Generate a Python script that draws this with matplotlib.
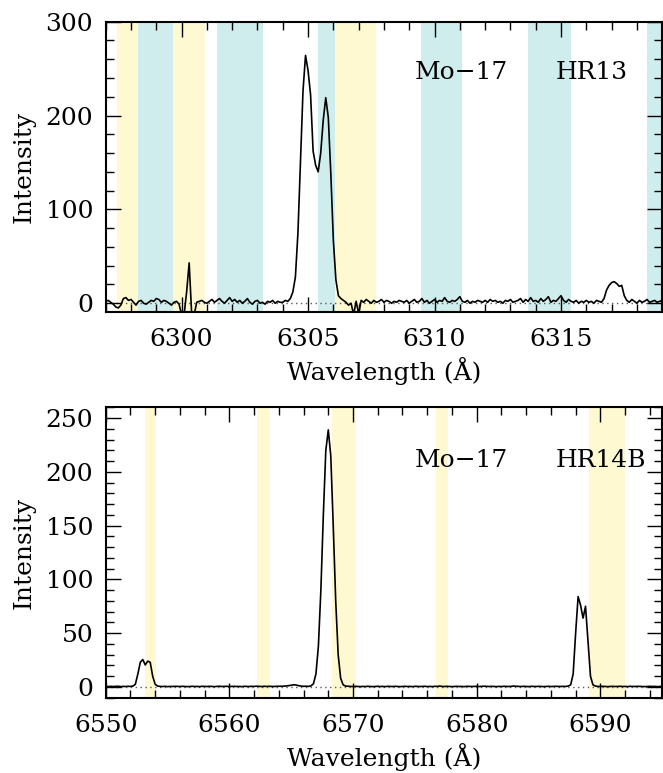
import numpy as np
import matplotlib
matplotlib.use('Agg')
import matplotlib.pyplot as plt
from matplotlib.ticker import MultipleLocator

plt.rcParams['font.family'] = ['DejaVu Serif']

# ---- top panel data (HR13), 0.1 A sampling from 6297.0
top_start, top_step = 6297.0, 0.1
top_flux = [
    2, 3, 1, -1, -4, -5, -2, 5, 6, 3,
    4, 1, -2, 2, 3, 0, -1, 1, 3, 2,
    5, 4, 1, 3, 2, 0, -2, 1, 2, -1,
    -12, -12, 12, 43, -12, -12, 1, 2, 3, 1,
    0, 2, 4, 1, 3, 5, 2, 0, 3, 6,
    2, 4, 1, 3, 0, 2, 5, 1, -1, 2,
    3, 0, 1, -1, 2, 1, 3, 0, 2, 1,
    1, 3, 2, 5, 12, 28, 75, 150, 226, 264,
    248, 222, 162, 147, 140, 160, 195, 219, 198, 138,
    67, 25, 8, 5, 3, 1, -2, 0, -12, 2,
    -11, 3, 1, 4, 2, 0, 3, 1, 2, 4,
    1, 3, 2, 0, 2, 1, 3, 2, 1, 3,
    0, 2, 4, 1, 2, 5, 1, 3, 0, 2,
    4, 1, 3, 2, 6, 2, 1, 3, 2, 4,
    7, 2, 1, 3, 0, 2, 1, 3, 2, 1,
    3, 1, 4, 2, 3, 1, 2, 0, 3, 2,
    4, 1, 2, 3, 5, 1, 4, 2, 6, 2,
    3, 1, 5, 2, 4, 7, 1, 3, 2, 5,
    8, 3, 1, 4, 2, 1, 3, 0, 2, 1,
    3, 1, 2, 0, 3, 2, 1, 5, 14, 19,
    22, 23, 21, 18, 19, 8, 3, 1, 4, 2,
    0, 3, 1, 2, 4, 1, 2, 3, 1, 2,
    3,
]
top_yellow = [(6297.43, 6298.29), (6299.67, 6300.94), (6306.07, 6307.67)]
top_cyan = [(6298.29, 6299.67), (6301.41, 6303.23), (6305.40, 6306.07),
            (6309.45, 6311.07), (6313.69, 6315.41), (6318.40, 6319.5)]

# ---- bottom panel data (HR14B), 0.2 A sampling from 6550.0
bot_start, bot_step = 6550.0, 0.2
bot_flux = [
    0.5, 0.3, 0.6, 0.4, 0.5, 0.7, 0.3, 0.5, 0.4, 0.6,
    0.5, 0.8, 2.5, 12, 23, 25.5, 20.5, 24, 23, 10,
    2.5, 0.8, 0.5, 0.4, 0.6, 0.3, 0.5, 0.4, 0.6, 0.5,
    0.4, 0.6, 0.5, 0.3, 0.5, 0.6, 0.4, 0.5, 0.3, 0.6,
    0.5, 0.4, 0.6, 0.5, 0.3, 0.5, 0.7, 0.4, 0.5, 0.6,
    0.4, 0.5, 0.6, 0.4, 0.5, 0.3, 0.6, 0.5, 0.4, 0.6,
    0.5, 0.7, 0.5, 0.4, 0.6, 0.5, 0.6, 0.5, 0.4, 0.6,
    0.6, 0.5, 0.7, 0.9, 1.2, 1.6, 2.0, 1.8, 1.2, 0.8,
    0.6, 0.7, 0.5, 1, 3, 12, 38, 90, 160, 220,
    239, 215, 150, 80, 30, 8, 2, 0.8, 0.6, 0.5,
    0.4, 0.6, 0.5, 0.3, 0.5, 0.4, 0.6, 0.5, 0.3, 0.5,
    0.6, 0.4, 0.5, 0.3, 0.6, 0.5, 0.4, 0.6, 0.5, 0.3,
    0.5, 0.6, 0.4, 0.5, 0.3, 0.6, 0.5, 0.4, 0.5, 0.6,
    0.4, 0.5, 0.3, 0.6, 0.5, 0.8, 0.5, 0.4, 0.6, 0.5,
    0.3, 0.5, 0.6, 0.4, 0.5, 0.3, 0.6, 0.5, 0.4, 0.5,
    0.6, 0.4, 0.5, 0.7, 0.5, 0.4, 0.6, 0.5, 0.3, 0.5,
    0.4, 0.6, 0.5, 0.4, 0.6, 0.8, 0.6, 0.5, 0.4, 0.6,
    0.5, 0.3, 0.6, 0.5, 0.4, 0.6, 0.5, 0.3, 0.5, 0.6,
    0.4, 0.5, 0.6, 0.5, 0.4, 0.6, 0.5, 0.8, 2, 12,
    50, 84, 76, 64, 75, 42, 10, 2, 0.8, 0.5,
    0.4, 0.6, 0.5, 0.3, 0.5, 0.6, 0.4, 0.5, 0.6, 0.4,
    0.5, 0.3, 0.6, 0.5, 0.4, 0.6, 0.5, 0.4, 0.3, 0.5,
    0.6, 0.4, 0.5, 0.3, 0.5, 0.6,
]
bot_yellow = [(6553.15, 6554.09), (6562.21, 6563.31), (6568.31, 6570.21),
              (6576.73, 6577.67), (6589.10, 6592.00)]
bot_cyan = []

yellow = '#fff9d1'
cyan = '#cfeded'
fs = 18


def panel(ax, start, step, flux, ylw, cyn, xlim, ylim, xmaj, xmin, ymaj, ymin,
          grating, ytxt):
    wl = start + step * np.arange(len(flux))
    for lo, hi in ylw:
        ax.axvspan(lo, hi, color=yellow, lw=0, zorder=0)
    for lo, hi in cyn:
        ax.axvspan(lo, hi, color=cyan, lw=0, zorder=0)
    ax.axhline(0, color='0.35', ls=(0, (1, 2.5)), lw=1.0, zorder=1)
    ax.plot(wl, flux, color='black', lw=1.2, zorder=2)
    ax.set_xlim(*xlim)
    ax.set_ylim(*ylim)
    ax.xaxis.set_major_locator(MultipleLocator(xmaj))
    ax.xaxis.set_minor_locator(MultipleLocator(xmin))
    ax.yaxis.set_major_locator(MultipleLocator(ymaj))
    ax.yaxis.set_minor_locator(MultipleLocator(ymin))
    ax.tick_params(which='both', direction='in', top=True, right=True, width=1.0)
    ax.tick_params(which='major', length=11, labelsize=fs)
    ax.tick_params(which='minor', length=5.5)
    ax.tick_params(axis='x', pad=12)
    ax.tick_params(axis='y', pad=9)
    for s in ax.spines.values():
        s.set_linewidth(1.5)
    ax.set_xlabel('Wavelength (Å)', fontsize=fs, labelpad=4)
    ax.set_ylabel('Intensity', fontsize=fs, labelpad=7)
    ax.text(0.556, ytxt, 'Mo\u221217', transform=ax.transAxes, fontsize=fs,
            ha='left', va='center')
    ax.text(0.808, ytxt, grating, transform=ax.transAxes, fontsize=fs,
            ha='left', va='center')


fig = plt.figure(figsize=(6.63, 7.73), dpi=100)
ax1 = fig.add_axes([0.1594, 0.5968, 0.8394, 0.3752])
ax2 = fig.add_axes([0.1594, 0.0974, 0.8394, 0.3757])

panel(ax1, top_start, top_step, top_flux, top_yellow, top_cyan,
      (6297, 6319), (-9, 300), 5, 1, 100, 20, 'HR13', 0.826)
panel(ax2, bot_start, bot_step, bot_flux, bot_yellow, bot_cyan,
      (6550, 6595), (-10, 260), 10, 2, 50, 10, 'HR14B', 0.816)

fig.savefig('out.png', dpi=100)
